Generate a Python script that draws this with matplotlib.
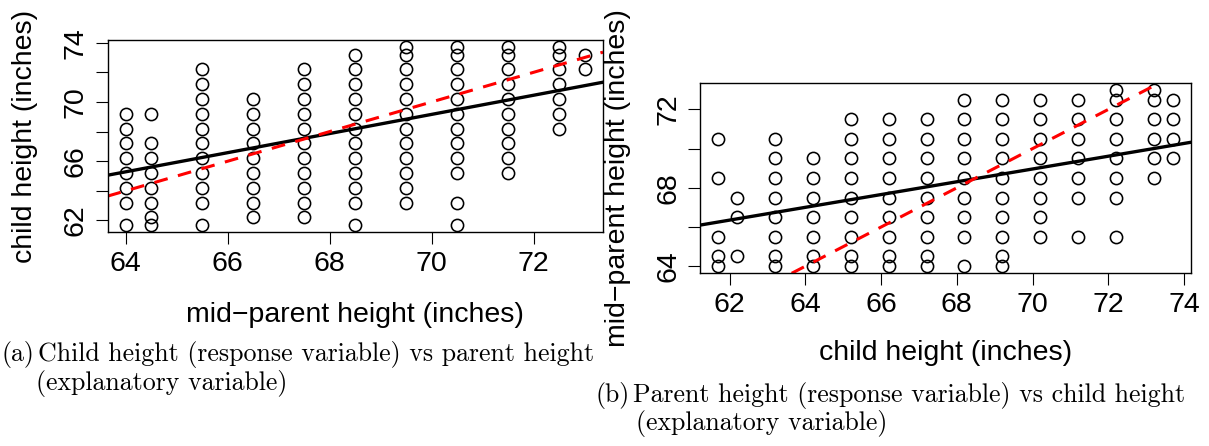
import matplotlib
matplotlib.use("Agg")
import matplotlib.pyplot as plt
import numpy as np

plt.rcParams['font.family'] = ['Liberation Sans', 'DejaVu Sans']

# Galton heights: distinct (mid-parent, child) pairs, one column per parent height
parent_heights = [64, 64.5, 65.5, 66.5, 67.5, 68.5, 69.5, 70.5, 71.5, 72.5, 73]
child_at_64 = [61.7, 63.2, 64.2, 65.2, 66.2, 67.2, 68.2, 69.2]
child_at_64_5 = [61.7, 62.2, 63.2, 64.2, 65.2, 66.2, 67.2, 69.2]
child_at_65_5 = [61.7, 63.2, 64.2, 65.2, 66.2, 67.2, 68.2, 69.2, 70.2, 71.2, 72.2]
child_at_66_5 = [62.2, 63.2, 64.2, 65.2, 66.2, 67.2, 68.2, 69.2, 70.2]
child_at_67_5 = [62.2, 63.2, 64.2, 65.2, 66.2, 67.2, 68.2, 69.2, 70.2, 71.2, 72.2]
child_at_68_5 = [61.7, 63.2, 64.2, 65.2, 66.2, 67.2, 68.2, 69.2, 70.2, 71.2, 72.2, 73.2]
child_at_69_5 = [63.2, 64.2, 65.2, 66.2, 67.2, 68.2, 69.2, 70.2, 71.2, 72.2, 73.2, 73.7]
child_at_70_5 = [61.7, 63.2, 65.2, 66.2, 67.2, 68.2, 69.2, 70.2, 71.2, 72.2, 73.2, 73.7]
child_at_71_5 = [65.2, 66.2, 67.2, 68.2, 69.2, 70.2, 71.2, 72.2, 73.2, 73.7]
child_at_72_5 = [68.2, 69.2, 70.2, 71.2, 72.2, 73.2, 73.7]
child_at_73 = [72.2, 73.2]

# least squares fits (intercept, slope)
fit_child_on_parent = (23.94, 0.646)
fit_parent_on_child = (46.14, 0.326)

caption_a = ["(a)", "Child height (response variable) vs parent height", "(explanatory variable)"]
caption_b = ["(b)", "Parent height (response variable) vs child height", "(explanatory variable)"]

columns = [child_at_64, child_at_64_5, child_at_65_5, child_at_66_5, child_at_67_5,
           child_at_68_5, child_at_69_5, child_at_70_5, child_at_71_5, child_at_72_5,
           child_at_73]
parent = np.concatenate([[p] * len(c) for p, c in zip(parent_heights, columns)])
child = np.concatenate(columns)


def r_lim(v):
    # R's default 4% padding
    lo, hi = min(v), max(v)
    d = 0.04 * (hi - lo)
    return lo - d, hi + d


W, H = 1209, 446
fig = plt.figure(figsize=(W / 100, H / 100), dpi=100)


def px_axes(x0, y0, x1, y1):
    return fig.add_axes([x0 / W, 1 - y1 / H, (x1 - x0) / W, (y1 - y0) / H])


def style(ax, xticks, xlabels, yticks, ylabels):
    for s in ax.spines.values():
        s.set_linewidth(1.0)
    ax.set_xticks(xticks)
    ax.set_xticklabels(xlabels)
    ax.set_yticks(yticks)
    ax.set_yticklabels(ylabels, rotation=90, va='center')
    ax.tick_params(length=8.6, width=0.8, labelsize=20.5, pad=5)


def panel(ax, x, y, fit):
    ax.plot(x, y, 'o', ms=8.8, mfc='none', mec='black', mew=1.15, ls='none')
    ax.axline((0, fit[0]), slope=fit[1], color='black', lw=2.4)
    ax.axline((64, 64), slope=1, color='#ff0000', lw=2.2, dashes=(4.5, 3.5))
    ax.set_xlim(r_lim(x))
    ax.set_ylim(r_lim(y))


# (a) child vs parent
ax1 = px_axes(107.5, 40, 603, 232)
panel(ax1, parent, child, fit_child_on_parent)
style(ax1, [64, 66, 68, 70, 72], ['64', '66', '68', '70', '72'],
      [62, 64, 66, 68, 70, 72, 74], ['62', '', '66', '', '70', '', '74'])

# (b) parent vs child
ax2 = px_axes(700, 82.7, 1191, 273.3)
panel(ax2, child, parent, fit_parent_on_child)
style(ax2, [62, 64, 66, 68, 70, 72, 74], ['62', '64', '66', '68', '70', '72', '74'],
      [64, 66, 68, 70, 72], ['64', '', '68', '', '72'])

# axis titles
lab = dict(fontsize=20.5)
fig.text(355 / W, 1 - 322 / H, "mid\u2212parent height (inches)", ha='center', va='baseline', **lab)
fig.text(25 / W, 1 - 136 / H, "child height (inches)", rotation=90, ha='center', va='center', **lab)
fig.text(945.5 / W, 1 - 360 / H, "child height (inches)", ha='center', va='baseline', **lab)
fig.text(618 / W, 1 - 178 / H, "mid\u2212parent height (inches)", rotation=90, ha='center', va='center', **lab)

# sub-captions
cap = dict(fontsize=18.6, family='cmr10', va='baseline')
fig.text(1 / W, 1 - 361 / H, caption_a[0], **cap)
fig.text(38 / W, 1 - 361 / H, caption_a[1], **cap)
fig.text(36 / W, 1 - 390 / H, caption_a[2], **cap)
fig.text(596 / W, 1 - 402 / H, caption_b[0], **cap)
fig.text(633 / W, 1 - 402 / H, caption_b[1], **cap)
fig.text(636 / W, 1 - 430 / H, caption_b[2], **cap)

fig.savefig("out.png", dpi=100)
